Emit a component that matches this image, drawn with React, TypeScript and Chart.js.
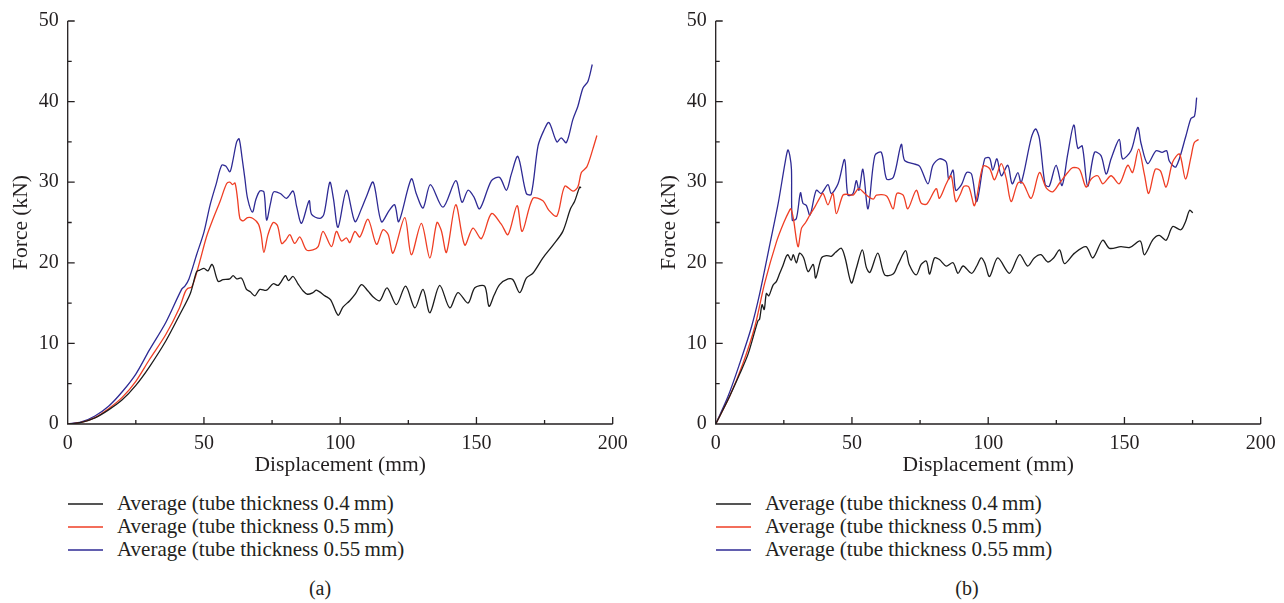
import React, { useEffect, useRef } from "react";
import { Chart, registerables } from "chart.js";

Chart.register(...registerables);

// ---------- shared axis definitions ----------
const xMajorTicks = [0, 50, 100, 150, 200];
const xMinorTicks = [25, 75, 125, 175];
const yMajorTicks = [0, 10, 20, 30, 40, 50];
const yMinorTicks = [5, 15, 25, 35, 45];
const xTitle = "Displacement (mm)";
const yTitle = "Force (kN)";
const seriesLabels = [
  "Average (tube thickness 0.4\u2009mm)",
  "Average (tube thickness 0.5\u2009mm)",
  "Average (tube thickness 0.55\u2009mm)",
];
const seriesColors = ["#1c1c1c", "#ef3e24", "#2e2a94"];

// ---------- panel (a) ----------
const aBlackX = [0, 5, 10, 15, 20, 25, 30, 36, 41, 45, 47.3, 48.5, 50, 51.5, 52.8, 53.4, 55.2, 57, 59.5, 60.7, 62, 63.8, 65.6, 67, 68.7, 70.5, 73, 75.4, 77.3, 79.9, 81, 82.7, 84.5, 86.4, 88, 90, 91.3, 94.4, 96.5, 99.2, 101, 103.5, 105.5, 107.8, 110.2, 112, 114.5, 117.2, 120.6, 124, 127.4, 130.4, 132.9, 136.5, 140.2, 143.2, 146.9, 149.4, 153, 154.6, 156.5, 158.5, 161.6, 163.4, 165.9, 168.3, 170.7, 174.4, 178.1, 181.7, 184.5, 186, 187.9, 188.4];
const aBlackY = [0, 0.2, 0.75, 1.75, 3.0, 4.8, 7.1, 10.3, 13.5, 16.2, 18.9, 19.1, 19.3, 19.0, 19.8, 19.6, 17.7, 17.9, 18.0, 18.4, 18.0, 18.1, 16.7, 16.4, 15.9, 16.7, 16.6, 17.4, 17.2, 18.4, 17.8, 18.3, 17.4, 16.5, 16.1, 16.3, 16.6, 15.9, 15.4, 13.5, 14.5, 15.3, 16.1, 17.3, 16.5, 15.8, 15.3, 16.9, 14.8, 17.1, 14.4, 16.7, 13.8, 17.2, 14.4, 16.3, 15.0, 16.9, 17.1, 14.6, 16.0, 17.3, 18.0, 17.9, 16.3, 18.1, 18.7, 20.6, 22.2, 23.9, 26.7, 27.6, 29.4, 29.3];

const aRedX = [0, 5, 10, 15, 20, 25, 30, 36, 41, 43, 44, 45.5, 47, 48.5, 51, 53.4, 55.9, 58.3, 59.5, 60.5, 61.4, 62.3, 63.2, 64.4, 66, 68, 70, 71, 72, 73.5, 75.4, 77, 78.5, 80, 81.5, 83.3, 85.2, 87.6, 90, 91.9, 93.7, 96.8, 98.6, 100.5, 102.3, 103.5, 105.4, 107.2, 110.2, 113.3, 115.7, 117.6, 119.4, 123.7, 126.1, 129.8, 132.9, 135.5, 137.1, 139, 142.4, 145.7, 148.7, 151.8, 155.5, 159.1, 161.6, 164.9, 166.8, 170.7, 174.4, 176.6, 179.5, 182.4, 185.4, 187.2, 188.5, 190.5, 192.7, 194.2];
const aRedY = [0, 0.2, 0.8, 1.9, 3.3, 5.3, 8.0, 11.1, 14.4, 16.3, 16.8, 17.0, 18.4, 20.2, 23.3, 25.5, 27.6, 29.8, 30.0, 29.7, 29.9, 28.0, 25.5, 25.2, 25.6, 25.5, 24.8, 23.5, 21.3, 23.5, 25.0, 24.6, 22.4, 22.8, 23.5, 22.4, 23.2, 21.6, 21.6, 22.0, 23.9, 22.0, 23.9, 22.7, 23.1, 22.5, 23.9, 23.2, 25.4, 22.3, 24.1, 23.5, 21.2, 25.6, 21.0, 24.9, 20.6, 25.0, 24.0, 21.3, 27.2, 22.2, 24.3, 23.0, 26.1, 24.8, 23.5, 27.1, 23.9, 28.0, 27.7, 26.5, 25.8, 29.5, 28.9, 29.4, 31.2, 31.9, 34.1, 35.8];

const aBlueX = [0, 5, 10, 15, 20, 25, 30, 36, 41.8, 43, 44.5, 47.3, 50, 52.2, 54.5, 56.5, 58, 59.5, 60.5, 62, 62.9, 64, 65, 66, 67.8, 69, 70.5, 72, 73, 74.5, 75.6, 78, 80.3, 82.7, 84, 85.8, 88.6, 89.5, 92.5, 94, 96.2, 97.5, 99.2, 102.3, 105.4, 107.8, 109.6, 112.1, 115.1, 118, 120, 121.5, 126.1, 128, 130.4, 133.1, 137.7, 142.4, 144.7, 146.9, 149, 151.2, 155.5, 158.5, 161, 162.8, 165.2, 168.3, 170.1, 172.6, 174.7, 176.6, 179.5, 181.1, 183, 185.4, 187.2, 189.1, 190.9, 192.5];
const aBlueY = [0, 0.25, 1.0, 2.2, 4.0, 6.2, 9.2, 12.6, 16.7, 17.1, 18.0, 21.0, 23.8, 27.1, 29.8, 32.1, 32.0, 31.3, 32.5, 35.0, 35.4, 33.0, 30.5, 28.0, 26.3, 27.8, 28.9, 28.8, 25.3, 27.5, 28.8, 28.6, 28.0, 28.9, 27.0, 24.9, 27.7, 26.0, 25.5, 26.0, 30.0, 28.0, 24.4, 29.0, 25.1, 26.7, 28.2, 30.0, 25.1, 26.5, 27.2, 25.1, 30.4, 28.5, 26.8, 29.7, 26.9, 30.2, 27.5, 29.0, 28.2, 26.7, 30.2, 30.6, 29.0, 31.0, 33.2, 28.6, 28.5, 34.5, 36.4, 37.4, 35.0, 35.5, 34.9, 37.8, 39.4, 41.7, 42.5, 44.6];

// ---------- panel (b) ----------
const bBlackX = [0, 4.5, 8.8, 11.9, 15.5, 16.1, 17, 17.8, 18.6, 19.5, 21, 22.3, 23.5, 24.5, 25.9, 26.5, 27.7, 28.5, 29.6, 30.8, 32.3, 33.9, 35.8, 36.7, 38.8, 40.6, 42.4, 44, 46.1, 47.5, 49.8, 51.5, 53.8, 55.3, 56.6, 59.5, 62, 65.1, 66.9, 69.7, 71, 73.6, 75.4, 77.3, 78.5, 80.3, 82.1, 84.6, 87.1, 88.9, 90.8, 93.9, 95.8, 97.4, 98.7, 100.5, 103.5, 107.8, 111.5, 114.5, 116.9, 119.4, 121.8, 124, 126.2, 128, 131.7, 135.9, 138.4, 142, 144.5, 148.7, 152, 155.8, 157.3, 160.5, 162.8, 165.3, 167.7, 170.7, 172.4, 173.9, 175.1];
const bBlackY = [0, 3.0, 6.2, 8.7, 12.8, 13.0, 14.8, 14.2, 16.2, 15.9, 17.2, 17.7, 18.7, 19.5, 20.8, 21.0, 20.3, 21.0, 20.0, 21.2, 20.6, 18.9, 19.8, 18.1, 20.6, 20.9, 20.8, 21.3, 21.8, 20.6, 17.5, 19.2, 21.6, 19.4, 18.8, 21.2, 18.5, 18.6, 19.8, 21.5, 19.8, 18.5, 19.8, 20.2, 18.6, 20.6, 20.4, 19.6, 20.0, 18.7, 19.6, 18.7, 19.6, 20.6, 20.0, 18.3, 20.6, 18.7, 21.0, 19.6, 20.6, 21.0, 20.1, 20.6, 21.6, 19.9, 21.2, 22.0, 20.6, 22.8, 21.8, 22.0, 21.9, 22.7, 21.0, 22.9, 23.4, 22.8, 24.5, 24.1, 25.1, 26.5, 26.2];

const bRedX = [0, 5.1, 10, 14.3, 18, 22.3, 25, 27.1, 27.6, 28.5, 30.2, 31.5, 33, 34.5, 36.5, 38.1, 39.4, 41.2, 43, 44.3, 46.7, 48.5, 50.4, 52.5, 55.3, 57.8, 59, 62.7, 65.1, 66.5, 68.8, 70.5, 73.6, 75.4, 77.5, 80.9, 82.1, 84.6, 86.4, 88.1, 89.9, 91.1, 92.9, 95, 98.1, 100.5, 102.3, 104.8, 106.6, 108.4, 110.9, 112.7, 115.8, 118.8, 121.3, 123.7, 126.2, 129.2, 131, 133.5, 135.9, 137.8, 140.2, 142.1, 145.1, 148.1, 151.2, 153, 155.2, 157.3, 158.9, 161.3, 163.2, 165.3, 167.7, 170.2, 172.4, 174.4, 175.6, 177.2];
const bRedY = [0, 3.4, 7.5, 12.0, 17.5, 22.6, 25.0, 26.5, 26.7, 25.5, 22.0, 24.3, 25.0, 25.9, 27.0, 28.0, 28.6, 27.2, 28.6, 26.1, 28.4, 28.5, 28.4, 29.2, 28.4, 27.9, 28.4, 28.3, 26.7, 28.6, 28.4, 26.7, 29.0, 27.4, 27.3, 29.2, 28.0, 29.8, 30.8, 27.6, 28.6, 29.5, 29.4, 27.1, 32.0, 31.7, 30.3, 32.3, 30.5, 27.6, 29.9, 29.9, 28.0, 31.2, 29.3, 28.8, 29.9, 31.2, 31.8, 31.6, 29.4, 30.4, 30.8, 29.8, 30.8, 29.8, 32.1, 31.2, 34.1, 31.0, 28.6, 31.6, 31.4, 29.4, 32.5, 33.5, 30.4, 33.1, 34.9, 35.3];

const bBlueX = [0, 4.5, 8.8, 13.1, 16.1, 20, 23, 25.5, 26.5, 27.2, 27.8, 28.1, 29.6, 31.1, 32, 33.3, 34.6, 36.9, 38.7, 41.2, 42.4, 44.9, 47.3, 48.5, 50.4, 51.6, 52.6, 54, 55.9, 58.4, 60.8, 62.7, 65.2, 68.1, 69.3, 72.4, 74.8, 77.9, 79.7, 82.1, 84.6, 85.5, 87.1, 88.1, 90.2, 92.1, 93.9, 95.8, 98.7, 100.5, 101.7, 103.2, 104.8, 107.2, 108.8, 110.9, 112.1, 115.8, 117.4, 118.8, 120.9, 122.4, 124.9, 127.1, 129.2, 131.4, 132.9, 134.5, 136.5, 139, 141.4, 143.3, 145.1, 148.1, 149.3, 152.4, 154.9, 156.1, 158.5, 161.6, 163.8, 165.5, 166.5, 168.9, 172.6, 174.4, 175.7, 176.5];
const bBlueY = [0, 3.4, 7.5, 12.0, 16.1, 22.5, 27.5, 32.5, 34.0, 33.3, 31.6, 25.3, 25.5, 28.7, 27.4, 27.1, 25.9, 29.0, 28.6, 29.7, 28.6, 29.8, 32.8, 28.4, 28.6, 30.2, 29.0, 31.6, 26.7, 33.3, 33.7, 30.4, 30.6, 34.7, 32.7, 32.3, 32.0, 29.8, 32.1, 32.9, 32.5, 30.4, 31.5, 29.0, 29.7, 31.2, 31.0, 27.6, 32.9, 33.0, 31.5, 32.9, 30.8, 32.1, 29.8, 31.2, 29.9, 35.5, 36.6, 35.4, 29.7, 29.5, 32.1, 29.6, 33.5, 37.1, 34.2, 34.5, 29.5, 33.7, 33.3, 31.0, 32.9, 35.3, 32.9, 33.9, 36.8, 34.8, 32.3, 33.9, 33.7, 33.9, 32.6, 31.9, 35.8, 37.9, 38.2, 40.5];

const FONT_FAMILY = "'Liberation Serif', 'DejaVu Serif', serif";
const TEXT_COLOR = "#231f20";

function toPoints(xs: number[], ys: number[]) {
  return xs.map((x, i) => ({ x, y: ys[i] }));
}

const inwardAxesPlugin = {
  id: "inwardAxes",
  afterDatasetsDraw(chart: any) {
    const { ctx, scales } = chart;
    const xs = scales.x;
    const ys = scales.y;
    const x0 = xs.getPixelForValue(xs.min);
    const x1 = xs.getPixelForValue(xs.max);
    const y0 = ys.getPixelForValue(ys.min);
    const y1 = ys.getPixelForValue(ys.max);
    ctx.save();
    ctx.strokeStyle = TEXT_COLOR;
    ctx.lineWidth = 1.3;
    ctx.beginPath();
    ctx.moveTo(x0, y1);
    ctx.lineTo(x0, y0);
    ctx.lineTo(x1, y0);
    xMajorTicks.forEach((v) => {
      const p = xs.getPixelForValue(v);
      ctx.moveTo(p, y0);
      ctx.lineTo(p, y0 - 7);
    });
    xMinorTicks.forEach((v) => {
      const p = xs.getPixelForValue(v);
      ctx.moveTo(p, y0);
      ctx.lineTo(p, y0 - 4);
    });
    yMajorTicks.forEach((v) => {
      const p = ys.getPixelForValue(v);
      ctx.moveTo(x0, p);
      ctx.lineTo(x0 + 7, p);
    });
    yMinorTicks.forEach((v) => {
      const p = ys.getPixelForValue(v);
      ctx.moveTo(x0, p);
      ctx.lineTo(x0 + 4, p);
    });
    ctx.stroke();
    ctx.restore();
  },
};

type PanelProps = {
  left: number;
  width: number;
  series: { x: number[]; y: number[] }[];
};

function Panel({ left, width, series }: PanelProps) {
  const ref = useRef<HTMLCanvasElement>(null);
  useEffect(() => {
    if (!ref.current) return;
    const yAxisWidth = 67.7;
    const plotWidth = 545;
    const chart = new Chart(ref.current, {
      type: "line",
      data: {
        datasets: series.map((s, i) => ({
          label: seriesLabels[i],
          data: toPoints(s.x, s.y),
          borderColor: seriesColors[i],
          backgroundColor: seriesColors[i],
          borderWidth: 1.3,
          pointRadius: 0,
          tension: 0.3,
          fill: false,
        })),
      },
      options: {
        animation: false,
        responsive: false,
        maintainAspectRatio: false,
        layout: {
          padding: { top: 17.5, left: 0, bottom: 0, right: width - yAxisWidth - plotWidth },
        },
        plugins: {
          legend: { display: false },
          tooltip: { enabled: false },
        },
        scales: {
          x: {
            type: "linear",
            min: 0,
            max: 200,
            afterFit: (s: any) => {
              s.height = 56;
            },
            afterBuildTicks: (s: any) => {
              s.ticks = xMajorTicks.map((v) => ({ value: v }));
            },
            grid: { display: false, drawTicks: false },
            border: { display: false },
            ticks: {
              padding: 8,
              maxRotation: 0,
              font: { family: FONT_FAMILY, size: 20 },
              color: TEXT_COLOR,
            },
            title: {
              display: true,
              text: xTitle,
              font: { family: FONT_FAMILY, size: 21.5 },
              color: TEXT_COLOR,
              padding: { top: 0, bottom: 2 },
            },
          },
          y: {
            type: "linear",
            min: 0,
            max: 50,
            afterFit: (s: any) => {
              s.width = yAxisWidth;
            },
            afterBuildTicks: (s: any) => {
              s.ticks = yMajorTicks.map((v) => ({ value: v }));
            },
            grid: { display: false, drawTicks: false },
            border: { display: false },
            ticks: {
              padding: 9,
              font: { family: FONT_FAMILY, size: 20 },
              color: TEXT_COLOR,
            },
            title: {
              display: true,
              text: yTitle,
              font: { family: FONT_FAMILY, size: 21.5 },
              color: TEXT_COLOR,
              padding: { top: 8, bottom: 0 },
            },
          },
        },
      },
      plugins: [inwardAxesPlugin],
    } as any);
    return () => chart.destroy();
  }, []);
  return (
    <canvas
      ref={ref}
      width={width}
      height={480}
      style={{ position: "absolute", left, top: 0, width, height: 480 }}
    />
  );
}

const legendRowTops = [491, 514, 537];

function Legend({ left }: { left: number }) {
  return (
    <>
      {seriesLabels.map((label, i) => (
        <React.Fragment key={label}>
          <svg
            width={36}
            height={4}
            style={{ position: "absolute", left, top: legendRowTops[i] + 11 }}
          >
            <line x1={0} y1={2} x2={35} y2={2} stroke={seriesColors[i]} strokeWidth={1.4} />
          </svg>
          <div
            style={{
              position: "absolute",
              left: left + 49,
              top: legendRowTops[i],
              height: 24,
              lineHeight: "24px",
              fontFamily: FONT_FAMILY,
              fontSize: 21,
              color: TEXT_COLOR,
              whiteSpace: "nowrap",
            }}
          >
            {label}
          </div>
        </React.Fragment>
      ))}
    </>
  );
}

function Caption({ center, text }: { center: number; text: string }) {
  return (
    <div
      style={{
        position: "absolute",
        left: center - 50,
        width: 100,
        top: 576,
        textAlign: "center",
        fontFamily: FONT_FAMILY,
        fontSize: 20,
        lineHeight: "24px",
        color: TEXT_COLOR,
      }}
    >
      {text}
    </div>
  );
}

export default function App() {
  useEffect(() => {
    document.body.style.margin = "0";
    document.body.style.background = "#ffffff";
  }, []);
  return (
    <div style={{ position: "relative", width: 1284, height: 603, background: "#fff", overflow: "hidden" }}>
      <Panel
        left={0}
        width={640}
        series={[
          { x: aBlackX, y: aBlackY },
          { x: aRedX, y: aRedY },
          { x: aBlueX, y: aBlueY },
        ]}
      />
      <Panel
        left={648}
        width={636}
        series={[
          { x: bBlackX, y: bBlackY },
          { x: bRedX, y: bRedY },
          { x: bBlueX, y: bBlueY },
        ]}
      />
      <Legend left={68} />
      <Legend left={716} />
      <Caption center={320} text="(a)" />
      <Caption center={967} text="(b)" />
    </div>
  );
}
